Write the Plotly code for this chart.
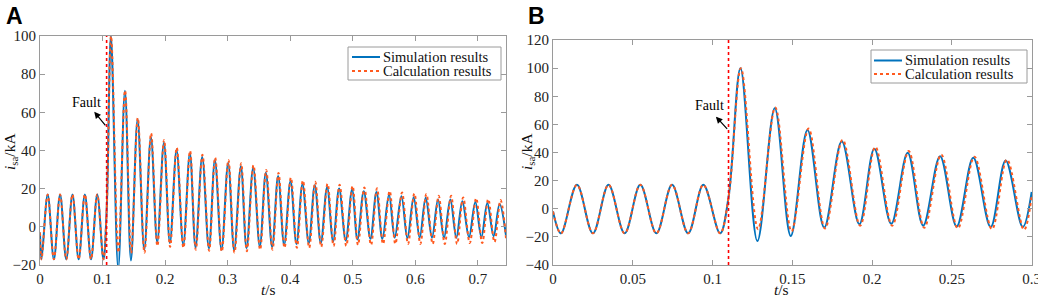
import plotly.graph_objects as go

# ---------------- Panel A data (t in s, i in kA) ----------------
a_sim_t = [0, 0.0024, 0.0123, 0.0222, 0.0321, 0.0420, 0.0519, 0.0618, 0.0717, 0.0816, 0.0915, 0.1014,
           0.1065, 0.1134, 0.1250, 0.1358, 0.1454, 0.1560, 0.1667, 0.1773, 0.1874, 0.1981, 0.2077,
           0.2183, 0.2290, 0.2396, 0.2487, 0.2593, 0.2700, 0.2796, 0.2902, 0.3008, 0.3104, 0.3211,
           0.3302, 0.3408, 0.3514, 0.3610, 0.3711, 0.3807, 0.3903, 0.4005, 0.4100, 0.4196, 0.4297,
           0.4393, 0.4489, 0.4590, 0.4686, 0.4782, 0.4888, 0.4989, 0.5075, 0.5176, 0.5283, 0.5379,
           0.5474, 0.5580, 0.5671, 0.5778, 0.5874, 0.5974, 0.6070, 0.6166, 0.6267, 0.6363, 0.6459,
           0.6560, 0.6656, 0.6752, 0.6858, 0.6960, 0.7056, 0.7152, 0.7252, 0.7348, 0.745]
a_sim_i = [-3, -17, 17, -17, 17, -17, 17, -17, 17, -17, 17, -17,
           8, 100, -22, 71.3, -17.6, 56.4, -12, 47.1, -8, 44.1, -8.5,
           40.3, -9.3, 38.5, -10.8, 36.6, -11.3, 35, -12, 33.6, -12.3, 31.8,
           -11.2, 31, -10.3, 28.3, -10.6, 26.6, -9.4, 24, -9, 22.5, -8.5,
           21.8, -8.5, 20.8, -7.6, 20.1, -7.2, 19.6, -6.7, 18.7, -6.3, 18.3,
           -6.3, 16.9, -5.7, 16, -6, 15.5, -5.7, 15.2, -5.7, 14.3, -5.7,
           14.3, -5.7, 13.4, -5.4, 13, -5.4, 12.5, -4.9, 12, -4.5]

a_cal_t = [0, 0.0024, 0.0123, 0.0222, 0.0321, 0.0420, 0.0519, 0.0618, 0.0717, 0.0816, 0.0915, 0.1014,
           0.1065, 0.1136, 0.1252, 0.1360, 0.1457, 0.1563, 0.1670, 0.1776, 0.1877, 0.1984, 0.2080,
           0.2186, 0.2293, 0.2399, 0.2491, 0.2597, 0.2704, 0.2800, 0.2906, 0.3012, 0.3109, 0.3216,
           0.3307, 0.3413, 0.3519, 0.3616, 0.3717, 0.3813, 0.3909, 0.4011, 0.4107, 0.4203, 0.4304,
           0.4400, 0.4496, 0.4597, 0.4694, 0.4790, 0.4896, 0.4997, 0.5084, 0.5185, 0.5292, 0.5388,
           0.5484, 0.5590, 0.5681, 0.5788, 0.5884, 0.5985, 0.6081, 0.6177, 0.6278, 0.6374, 0.6471,
           0.6572, 0.6668, 0.6765, 0.6871, 0.6973, 0.7070, 0.7166, 0.7266, 0.7363, 0.745]
a_cal_i = [-3, -17, 17, -17, 17, -17, 17, -17, 17, -17, 17, -17,
           8, 100, -13.5, 71.5, -13.8, 57, -13.5, 49, -10, 45.5, -10.5,
           41.5, -11, 39.8, -12, 37.8, -12.5, 36.3, -13, 35, -13.5, 33.3,
           -12.8, 32.3, -12, 29.8, -12, 28.2, -11, 25.8, -11, 24.3, -11,
           23.6, -10.5, 22.6, -10, 22, -10, 21.5, -9.5, 20.6, -9.5, 20.2,
           -9, 18.8, -9, 18, -9, 17.5, -9, 17.2, -9, 16.3, -9,
           16.3, -9, 15.4, -8.5, 15, -8.5, 14.5, -8, 14, -6]

a_fault_t = 0.1065

# ---------------- Panel B data ----------------
b_sim_t = [0, 0.005, 0.015, 0.025, 0.0348, 0.0449, 0.0547, 0.0648, 0.0746, 0.0847, 0.0942, 0.1047,
           0.110, 0.1175, 0.1281, 0.1390, 0.1490, 0.1595, 0.1700, 0.1810, 0.1920, 0.2014, 0.2120,
           0.2223, 0.2320, 0.2426, 0.2530, 0.2634, 0.2743, 0.2837, 0.2944, 0.300]
b_sim_i = [-2, -17.5, 17, -17.5, 17, -17.5, 17, -17.5, 17, -17.5, 17, -17.5,
           8, 100, -23, 71.4, -19.3, 56, -13.4, 48, -11, 42.6, -10.7,
           39.8, -12, 37.4, -12.6, 36.2, -13, 34.3, -13, 12]

b_cal_t = [0, 0.005, 0.015, 0.025, 0.0348, 0.0449, 0.0547, 0.0648, 0.0746, 0.0847, 0.0942, 0.1047,
           0.110, 0.1178, 0.1285, 0.1393, 0.1495, 0.1602, 0.1705, 0.1815, 0.1925, 0.2020, 0.2126,
           0.2229, 0.2327, 0.2433, 0.2537, 0.2641, 0.2751, 0.2845, 0.2952, 0.300]
b_cal_i = [-2, -17.5, 17, -17.5, 17, -17.5, 17, -17.5, 17, -17.5, 17, -17.5,
           8, 100, -14.5, 72, -16, 57, -14, 49, -12, 44, -12,
           41, -13.5, 38.5, -14, 37, -14.5, 35, -15, 9]

b_fault_t = 0.110

a_xticks = [0, 0.1, 0.2, 0.3, 0.4, 0.5, 0.6, 0.7]
a_xticklabels = ["0", "0.1", "0.2", "0.3", "0.4", "0.5", "0.6", "0.7"]
a_yticks = [-20, 0, 20, 40, 60, 80, 100]
b_xticks = [0, 0.05, 0.1, 0.15, 0.2, 0.25, 0.3]
b_xticklabels = ["0", "0.05", "0.1", "0.15", "0.2", "0.25", "0.3"]
b_yticks = [-40, -20, 0, 20, 40, 60, 80, 100, 120]

series_names = ["Simulation results", "Calculation results"]

SIM_COLOR = "#0072BD"
CAL_COLOR = "#FF5A1F"
FAULT_COLOR = "#FF0000"
FRAME = "#9a9a9a"
SERIF = '"Liberation Serif", "Times New Roman", Times, serif'
W, H = 1038, 298

fig = go.Figure()

fig.add_trace(go.Scatter(x=a_sim_t, y=a_sim_i, mode="lines", name=series_names[0],
                         line=dict(color=SIM_COLOR, width=2, shape="spline"),
                         xaxis="x", yaxis="y", showlegend=False))
fig.add_trace(go.Scatter(x=a_cal_t, y=a_cal_i, mode="lines", name=series_names[1],
                         line=dict(color=CAL_COLOR, width=2, dash="dot", shape="spline"),
                         xaxis="x", yaxis="y", showlegend=False))
fig.add_trace(go.Scatter(x=b_sim_t, y=b_sim_i, mode="lines", name=series_names[0],
                         line=dict(color=SIM_COLOR, width=2, shape="spline"),
                         xaxis="x2", yaxis="y2", showlegend=False))
fig.add_trace(go.Scatter(x=b_cal_t, y=b_cal_i, mode="lines", name=series_names[1],
                         line=dict(color=CAL_COLOR, width=2, dash="dot", shape="spline"),
                         xaxis="x2", yaxis="y2", showlegend=False))

# fault lines
fig.add_shape(type="line", xref="x", yref="y", x0=a_fault_t, x1=a_fault_t, y0=-20, y1=100,
              line=dict(color=FAULT_COLOR, width=1.6, dash="dot"))
fig.add_shape(type="line", xref="x2", yref="y2", x0=b_fault_t, x1=b_fault_t, y0=-40, y1=120,
              line=dict(color=FAULT_COLOR, width=1.6, dash="dot"))

axis_common = dict(showline=True, linecolor=FRAME, linewidth=1, mirror="ticks",
                   ticks="inside", ticklen=5, tickcolor=FRAME, showgrid=False, zeroline=False,
                   automargin=False, ticklabeloverflow="allow",
                   tickfont=dict(family=SERIF, size=15, color="#222"))

fig.update_layout(
    width=W, height=H, margin=dict(l=0, r=0, t=0, b=0, pad=0, autoexpand=False),
    paper_bgcolor="white", plot_bgcolor="white", showlegend=False,
    xaxis=dict(domain=[40 / W, 506 / W], range=[0, 0.745], tickvals=a_xticks,
               ticktext=a_xticklabels, anchor="y", **axis_common),
    yaxis=dict(domain=[1 - 265 / H, 1 - 36 / H], range=[-20, 100], tickvals=a_yticks,
               anchor="x", **axis_common),
    xaxis2=dict(domain=[553 / W, 1032 / W], range=[0, 0.3002], tickvals=b_xticks,
                ticktext=b_xticklabels, anchor="y2", **axis_common),
    yaxis2=dict(domain=[1 - 265 / H, 1 - 40 / H], range=[-40, 120], tickvals=b_yticks,
                anchor="x2", **axis_common),
)

ann = []
shapes = []


def add_legend(x0, x1, y0, y1, line_x0, line_x1, text_x, row_y):
    shapes.append(dict(type="rect", xref="paper", yref="paper",
                       x0=x0 / W, x1=x1 / W, y0=1 - y1 / H, y1=1 - y0 / H,
                       line=dict(color=FRAME, width=1), fillcolor="white", layer="above"))
    styles = [dict(color=SIM_COLOR, width=2), dict(color=CAL_COLOR, width=2, dash="dot")]
    for name, st, ry in zip(series_names, styles, row_y):
        shapes.append(dict(type="line", xref="paper", yref="paper",
                           x0=line_x0 / W, x1=line_x1 / W, y0=1 - ry / H, y1=1 - ry / H,
                           line=st, layer="above"))
        ann.append(dict(text=name, xref="paper", yref="paper", x=text_x / W, y=1 - ry / H,
                        xanchor="left", yanchor="middle", showarrow=False,
                        font=dict(family=SERIF, size=14.5, color="#111")))


add_legend(348, 501, 47, 80, 352, 380, 381, (57, 71))
add_legend(871, 1027, 50, 83, 874, 902, 903, (60.5, 74))

# panel letters
ann.append(dict(text="<b>A</b>", xref="paper", yref="paper", x=4 / W, y=1 - 1 / H,
                xanchor="left", yanchor="top", showarrow=False,
                font=dict(family="Liberation Sans", size=23, color="black")))
ann.append(dict(text="<b>B</b>", xref="paper", yref="paper", x=526 / W, y=1 - 1 / H,
                xanchor="left", yanchor="top", showarrow=False,
                font=dict(family="Liberation Sans", size=23, color="black")))
# axis titles
for xc in (10, 527):
    ann.append(dict(text="<i>i</i><sub>sa</sub>/kA", xref="paper", yref="paper",
                    x=xc / W, y=1 - 152 / H, textangle=-90, showarrow=False,
                    xanchor="center", yanchor="middle",
                    font=dict(family=SERIF, size=15.5, color="#111")))
for xc in (268, 781):
    ann.append(dict(text="<i>t</i>/s", xref="paper", yref="paper", x=xc / W, y=1 - 289.5 / H,
                    showarrow=False, xanchor="center", yanchor="middle",
                    font=dict(family=SERIF, size=15.5, color="#111")))
# Fault annotations
ann.append(dict(text="Fault", xref="x", yref="y", x=0.0750, y=60, showarrow=False,
                xanchor="center", yanchor="bottom", font=dict(family=SERIF, size=14, color="black")))
ann.append(dict(text="", xref="x", yref="y", x=0.0867, y=60.3, ax=a_fault_t, ay=52.4,
                axref="x", ayref="y", showarrow=True, arrowhead=2, arrowsize=1.1,
                arrowwidth=1.2, arrowcolor="black"))
ann.append(dict(text="Fault", xref="x2", yref="y2", x=0.0980, y=66.5, showarrow=False,
                xanchor="center", yanchor="bottom", font=dict(family=SERIF, size=14, color="black")))
ann.append(dict(text="", xref="x2", yref="y2", x=0.1021, y=65.5, ax=b_fault_t, ay=55.7,
                axref="x2", ayref="y2", showarrow=True, arrowhead=2, arrowsize=1.1,
                arrowwidth=1.2, arrowcolor="black"))
fig.update_layout(annotations=ann, shapes=list(fig.layout.shapes) + shapes)

fig.write_html("out.html", config={"displayModeBar": False},
               post_script="document.body.style.margin='0px';document.body.style.overflow='hidden';")
